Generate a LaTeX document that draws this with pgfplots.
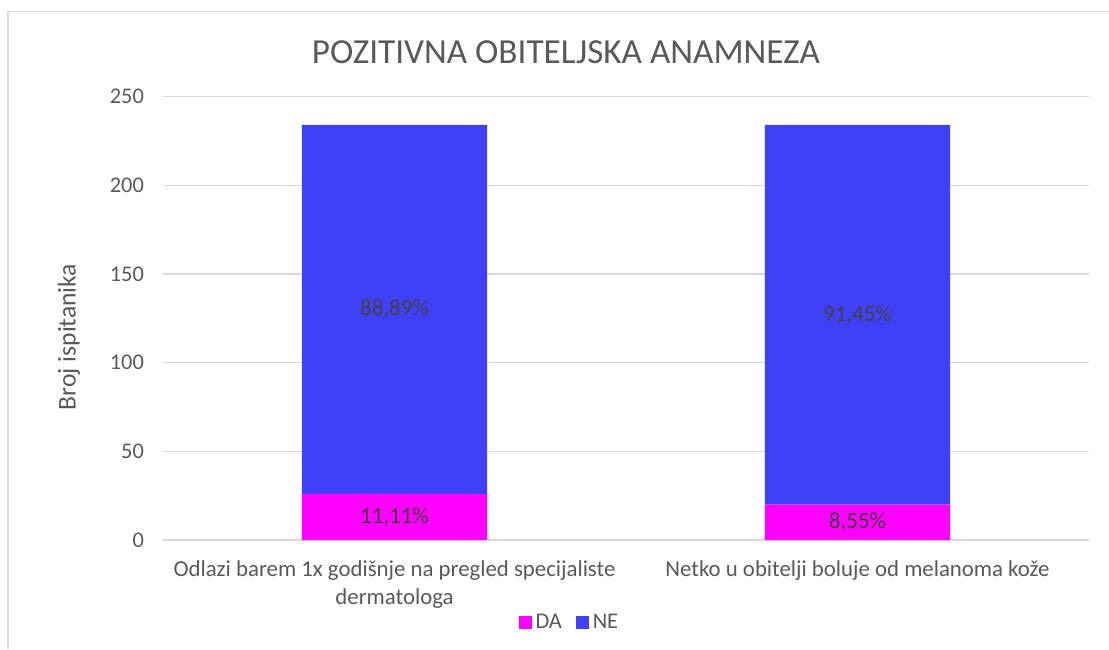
\documentclass[border=0pt]{standalone}
\usepackage{pgfplots}
\pgfplotsset{compat=1.18}
\usepackage{fontspec}
\setmainfont{Carlito}
\definecolor{da}{RGB}{255,0,255}
\definecolor{ne}{RGB}{64,64,248}
\definecolor{txt}{RGB}{89,89,89}
\definecolor{lbl}{RGB}{64,64,64}
\definecolor{grid}{RGB}{217,217,217}
\begin{document}
\begin{tikzpicture}
\path[use as bounding box] (0pt,0pt) rectangle (554.5pt,324.5pt);
\draw[grid,line width=0.7pt] (4pt,0pt) -- (4pt,318.75pt) -- (554.5pt,318.75pt);
\node[txt,font=\fontsize{17.6}{20}\selectfont] at (283pt,298.5pt) {POZITIVNA OBITELJSKA ANAMNEZA};
\begin{axis}[
  at={(81.5pt,54.5pt)}, anchor=south west,
  scale only axis, width=463pt, height=221.75pt,
  ybar stacked, bar width=0.4,
  xmin=-0.5, xmax=1.5, ymin=0, ymax=250,
  xtick={0,1},
  xticklabels={{Odlazi barem 1x godišnje na pregled specijaliste\\dermatologa},{Netko u obitelji boluje od melanoma kože}},
  xticklabel style={align=center, text=txt, font=\fontsize{11.4}{13.8}\selectfont, yshift=-7pt},
  ytick={0,50,...,250},
  yticklabel style={text=txt, font=\fontsize{11.2}{13}\selectfont, xshift=-6pt},
  /pgf/number format/assume math mode=true,
  major tick length=0pt,
  tick style={draw=none},
  xmajorgrids=false, xminorgrids=false,
  ymajorgrids=true,
  major y grid style={grid, line width=0.7pt},
  major x grid style={draw=none},
  axis line style={draw=none},
  ylabel={Broj ispitanika},
  ylabel style={at={(axis description cs:-0.1015,0.458)}, anchor=center, text=txt, font=\fontsize{12.8}{15}\selectfont},
  legend style={at={(axis description cs:0.44,-0.186)}, anchor=center, draw=none, fill=none, legend columns=2,
    font=\fontsize{11.2}{13}\selectfont, text=txt,
    /tikz/every even column/.append style={column sep=5pt}},
  legend image code/.code={\fill[#1] (0pt,-3.2pt) rectangle (6.4pt,3.2pt);},
]
\addplot[fill=da, draw=none] coordinates {(0,26) (1,20)};
\addplot[fill=ne, draw=none] coordinates {(0,208) (1,214)};
\legend{DA,NE}
\end{axis}
\begin{axis}[
  at={(81.5pt,54.5pt)}, anchor=south west,
  scale only axis, width=463pt, height=221.75pt,
  xmin=-0.5, xmax=1.5, ymin=0, ymax=250,
  hide axis,
  nodes near coords, point meta=explicit symbolic,
  every node near coord/.append style={anchor=center, text=lbl, font=\fontsize{11.5}{13}\selectfont},
]
\addplot[draw=none, mark=none] table[meta=l] {
x y l
0 13 11,11\%
1 10 8,55\%
0 130 88,89\%
1 127 91,45\%
};
\end{axis}
\end{tikzpicture}
\end{document}
